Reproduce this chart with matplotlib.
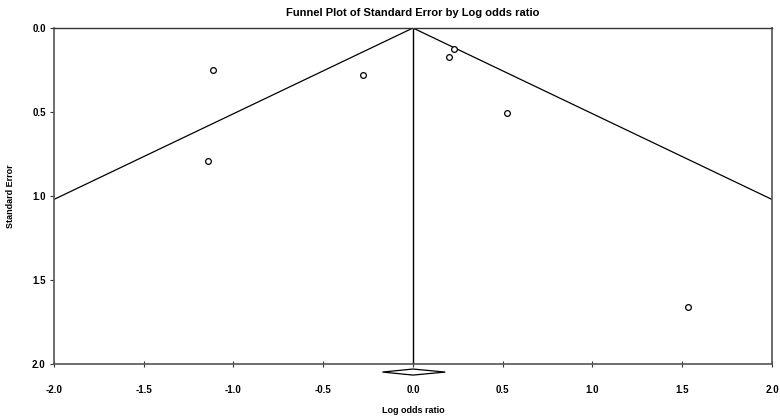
import numpy as np
import matplotlib.pyplot as plt
from matplotlib.patches import Polygon

plt.rcParams["font.family"] = ["Liberation Sans", "DejaVu Sans"]
plt.rcParams["font.weight"] = "bold"

# Study data
log_odds = [-1.114, -0.276, -1.144, 0.202, 0.230, 0.524, 1.530]
std_err = [0.250, 0.282, 0.790, 0.175, 0.127, 0.506, 1.663]

# Combined estimate and its interval (diamond)
pooled = 0.0
pooled_lo = -0.17
pooled_hi = 0.18

x_ticks = [-2.0, -1.5, -1.0, -0.5, 0.0, 0.5, 1.0, 1.5, 2.0]
y_ticks = [0.0, 0.5, 1.0, 1.5, 2.0]

fig = plt.figure(figsize=(7.8, 4.18), dpi=100)
ax = fig.add_axes([0.0692, 0.1292, 0.9205, 0.8038])

# funnel limits: pooled +/- 1.96 * SE
se_line = np.array([0.0, 2.0])
ax.plot(pooled - 1.96 * se_line, se_line, color="black", lw=0.9)
ax.plot(pooled + 1.96 * se_line, se_line, color="black", lw=0.9)
ax.plot([pooled, pooled], [0, 2.0], color="black", lw=1.0)

ax.scatter(log_odds, std_err, s=17, facecolors="white", edgecolors="black",
           linewidths=0.9, zorder=3)

# diamond under the axis
dy = 2.048
dh = 0.018
diamond = Polygon([[pooled_lo, dy], [pooled, dy - dh], [pooled_hi, dy], [pooled, dy + dh]],
                  closed=True, facecolor="white", edgecolor="black", lw=0.9,
                  clip_on=False, zorder=4)
ax.add_patch(diamond)

ax.set_xlim(-2.0, 2.0)
ax.set_ylim(2.0, 0.0)
ax.set_xticks(x_ticks)
ax.set_xticklabels([f"{v:.1f}" for v in x_ticks])
ax.set_yticks(y_ticks)
ax.set_yticklabels([f"{v:.1f}" for v in y_ticks])

ax.tick_params(axis="x", direction="inout", length=4, width=0.8, pad=13,
               labelsize=7, colors="#333333")
ax.tick_params(axis="y", direction="out", length=3, width=0.8, pad=3,
               labelsize=7, colors="#333333")
for lab in ax.get_xticklabels() + ax.get_yticklabels():
    lab.set_color("black")
    lab.set_fontweight("bold")

for sp in ax.spines.values():
    sp.set_color("#555555")
    sp.set_linewidth(1.2)
ax.spines["top"].set_color("#333333")
ax.spines["top"].set_linewidth(1.0)

ax.set_title("Funnel Plot of Standard Error by Log odds ratio", fontsize=8,
             fontweight="bold", pad=9)
ax.set_xlabel("Log odds ratio", fontsize=6.5, fontweight="bold", labelpad=8)
ax.set_ylabel("Standard Error", fontsize=6.5, fontweight="bold", labelpad=12)

fig.savefig("out.png", dpi=100)
